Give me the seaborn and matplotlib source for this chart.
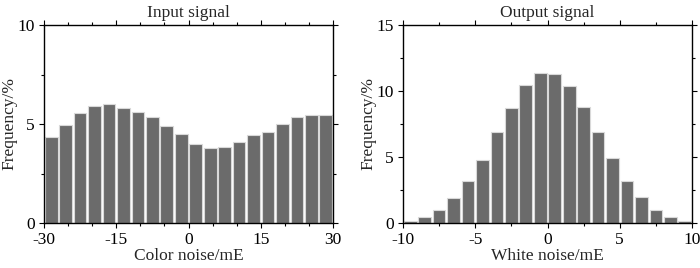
import matplotlib
matplotlib.use("Agg")
import matplotlib.pyplot as plt
import seaborn as sns
import numpy as np
from matplotlib.ticker import MultipleLocator

# bin centres and frequencies (%)
color_centers = [-28.5, -25.5, -22.5, -19.5, -16.5, -13.5, -10.5, -7.5, -4.5, -1.5,
                 1.5, 4.5, 7.5, 10.5, 13.5, 16.5, 19.5, 22.5, 25.5, 28.5]
color_freq = [4.32, 4.97, 5.56, 5.89, 5.99, 5.83, 5.62, 5.33, 4.91, 4.47,
              4.00, 3.79, 3.85, 4.08, 4.42, 4.60, 5.01, 5.33, 5.43, 5.43]

white_centers = [-9.5, -8.5, -7.5, -6.5, -5.5, -4.5, -3.5, -2.5, -1.5, -0.5,
                 0.5, 1.5, 2.5, 3.5, 4.5, 5.5, 6.5, 7.5, 8.5, 9.5]
white_freq = [0.15, 0.46, 1.01, 1.87, 3.19, 4.81, 6.88, 8.75, 10.45, 11.33,
              11.31, 10.40, 8.78, 6.88, 4.91, 3.21, 1.95, 1.01, 0.46, 0.18]

sns.set_theme(style="ticks")
plt.rcParams['font.family'] = ['Liberation Serif', 'DejaVu Serif']

BAR = '#6b6b6b'
EDGE = '#d9d9d9'
FS = 12.5

fig = plt.figure(figsize=(7, 2.68), dpi=100)
ax1 = fig.add_axes([44/700, 45/268, 289/700, 198/268])
ax2 = fig.add_axes([403/700, 45/268, 289/700, 198/268])

panels = [
    (ax1, color_centers, color_freq, (-30, 30), 20, 10, 'Input signal', 'Color noise/mE', 15, 5, 5, 2.5),
    (ax2, white_centers, white_freq, (-10, 10), 20, 15, 'Output signal', 'White noise/mE', 5, 2.5, 5, 2.5),
]

for ax, xs, ws, xr, nb, ymax, title, xlabel, xmaj, xmin, ymaj, ymin in panels:
    sns.histplot(x=xs, weights=ws, bins=nb, binrange=xr, ax=ax,
                 color=BAR, alpha=1, edgecolor=EDGE, linewidth=0.8, shrink=0.88)
    ax.set_xlim(*xr)
    ax.set_ylim(0, ymax)
    ax.xaxis.set_major_locator(MultipleLocator(xmaj))
    ax.xaxis.set_minor_locator(MultipleLocator(xmin))
    ax.yaxis.set_major_locator(MultipleLocator(ymaj))
    ax.yaxis.set_minor_locator(MultipleLocator(ymin))
    ax.tick_params(which='both', direction='out', top=True, right=True,
                   labelsize=FS, colors='black', width=0.8)
    ax.tick_params(axis='x', pad=3)
    ax.tick_params(axis='y', pad=3)
    ax.tick_params(which='major', length=3.5)
    ax.tick_params(which='minor', length=2)
    for sp in ax.spines.values():
        sp.set_visible(True)
        sp.set_color('black')
        sp.set_linewidth(1.0)
    ax.set_title(title, fontsize=FS, pad=6)
    ax.set_xlabel(xlabel, fontsize=FS, labelpad=0)
    ax.set_ylabel('Frequency/%', fontsize=FS, labelpad=0)
    ax.set_xticklabels([f'{int(t)}' for t in ax.get_xticks()])
    ax.grid(False)

fig.savefig('out.png', dpi=100)
